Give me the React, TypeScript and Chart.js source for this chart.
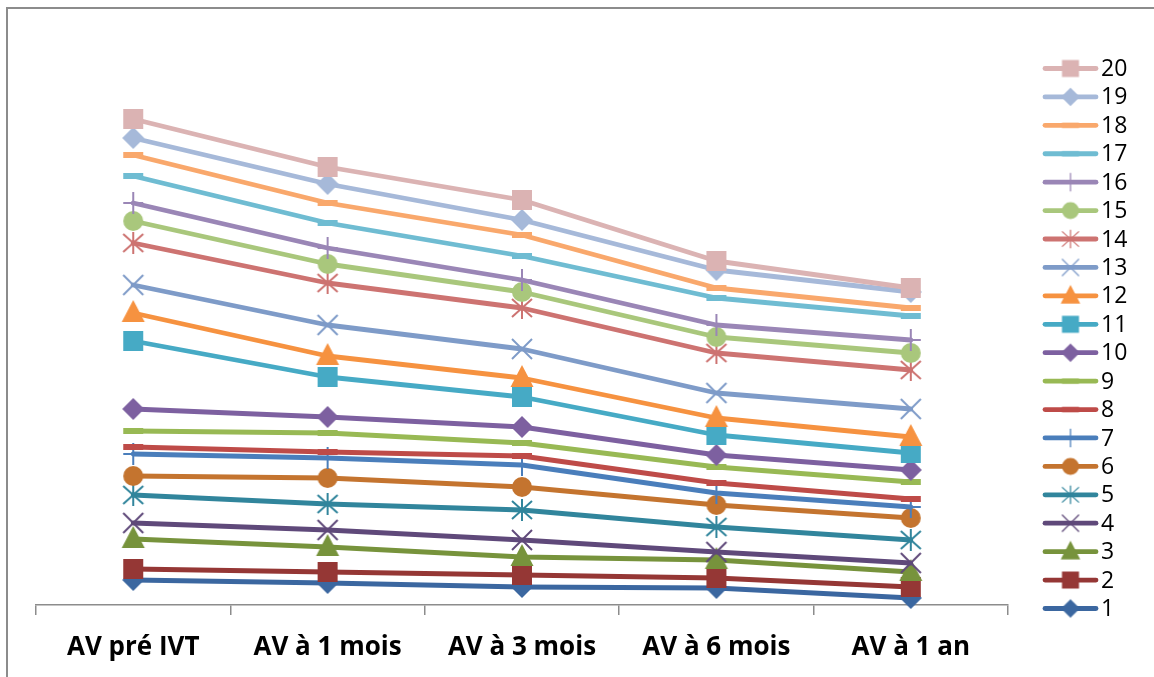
import React, { useEffect, useRef } from 'react';
import { Chart, registerables } from 'chart.js';

Chart.register(...registerables);

const categories = ['AV pré IVT', 'AV à 1 mois', 'AV à 3 mois', 'AV à 6 mois', 'AV à 1 an'];

const seriesNames = ['1', '2', '3', '4', '5', '6', '7', '8', '9', '10', '11', '12', '13', '14', '15', '16', '17', '18', '19', '20'];

const s1 = [1.25, 1.1, 0.9, 0.85, 0.35];
const s2 = [1.8, 1.65, 1.5, 1.35, 0.9];
const s3 = [3.3, 2.9, 2.4, 2.25, 1.65];
const s4 = [4.1, 3.75, 3.25, 2.65, 2.1];
const s5 = [5.5, 5.05, 4.75, 3.9, 3.25];
const s6 = [6.45, 6.35, 5.9, 5.0, 4.35];
const s7 = [7.55, 7.35, 7.0, 5.6, 4.9];
const s8 = [7.9, 7.65, 7.45, 6.1, 5.3];
const s9 = [8.7, 8.6, 8.1, 6.9, 6.15];
const s10 = [9.8, 9.4, 8.9, 7.5, 6.75];
const s11 = [13.2, 11.4, 10.4, 8.5, 7.6];
const s12 = [14.6, 12.45, 11.35, 9.35, 8.4];
const s13 = [16.0, 14.0, 12.8, 10.6, 9.8];
const s14 = [18.1, 16.1, 14.85, 12.6, 11.75];
const s15 = [19.2, 17.05, 15.65, 13.4, 12.6];
const s16 = [20.1, 17.85, 16.25, 14.0, 13.25];
const s17 = [21.45, 19.1, 17.45, 15.35, 14.45];
const s18 = [22.5, 20.1, 18.5, 15.85, 14.85];
const s19 = [23.35, 21.05, 19.25, 16.75, 15.65];
const s20 = [24.3, 21.9, 20.25, 17.2, 15.85];

const seriesValues = [s1, s2, s3, s4, s5, s6, s7, s8, s9, s10, s11, s12, s13, s14, s15, s16, s17, s18, s19, s20];

const seriesColors = [
  '#3B67A0', '#953735', '#77933C', '#5F497A', '#31859C',
  '#C4742F', '#4A7EBB', '#BE4B48', '#98B954', '#7D60A0',
  '#46AAC5', '#F69240', '#7E9BC8', '#CD7371', '#A9C77C',
  '#9A86B6', '#6FBCD2', '#F9A86C', '#A6B9D9', '#DBB3B3',
];

const seriesMarkers = [
  'diamond', 'square', 'triangle', 'x', 'star', 'circle', 'plus', 'dash', 'dash', 'diamond',
  'square', 'triangle', 'x', 'star', 'circle', 'plus', 'dash', 'dash', 'diamond', 'square',
];

function makeMarker(kind: string, color: string, scale: number, lw: number): HTMLCanvasElement {
  const S = 30;
  const c = document.createElement('canvas');
  c.width = S;
  c.height = S;
  const g = c.getContext('2d') as CanvasRenderingContext2D;
  g.translate(S / 2, S / 2);
  g.scale(scale, scale);
  g.fillStyle = color;
  g.strokeStyle = color;
  g.lineWidth = lw;
  g.lineCap = 'butt';
  const line = (x1: number, y1: number, x2: number, y2: number) => {
    g.beginPath();
    g.moveTo(x1, y1);
    g.lineTo(x2, y2);
    g.stroke();
  };
  switch (kind) {
    case 'diamond':
      g.beginPath();
      g.moveTo(0, -11);
      g.lineTo(11, 0);
      g.lineTo(0, 11);
      g.lineTo(-11, 0);
      g.closePath();
      g.fill();
      break;
    case 'square':
      g.fillRect(-10, -10, 20, 20);
      break;
    case 'triangle':
      g.beginPath();
      g.moveTo(0, -13);
      g.lineTo(11.5, 9);
      g.lineTo(-11.5, 9);
      g.closePath();
      g.fill();
      break;
    case 'x':
      line(-10, -10, 10, 10);
      line(-10, 10, 10, -10);
      break;
    case 'star':
      line(-10, -9, 10, 9);
      line(-10, 9, 10, -9);
      line(0, -11, 0, 11);
      break;
    case 'circle':
      g.beginPath();
      g.arc(0, 0, 10, 0, Math.PI * 2);
      g.fill();
      break;
    case 'plus':
      line(-10, 0, 10, 0);
      line(0, -11, 0, 11);
      break;
    case 'dash':
      g.fillRect(-10, -3, 20, 6);
      break;
  }
  return c;
}

export default function App() {
  const ref = useRef<HTMLCanvasElement | null>(null);

  useEffect(() => {
    const canvas = ref.current;
    if (!canvas) return;

    const chartMarkers = seriesMarkers.map((m, i) => makeMarker(m, seriesColors[i], 1, 2));
    const legendMarkers = seriesMarkers.map((m, i) => makeMarker(m, seriesColors[i], 0.85, 1.5));

    const datasets = seriesValues.map((vals, i) => ({
      label: seriesNames[i],
      data: vals,
      borderColor: seriesColors[i],
      backgroundColor: seriesColors[i],
      borderWidth: 4.8,
      borderCapStyle: 'round' as const,
      borderJoinStyle: 'round' as const,
      pointStyle: chartMarkers[i],
      pointRadius: 10,
      pointHoverRadius: 10,
      tension: 0,
      clip: false as const,
      order: seriesValues.length - 1 - i,
    }));

    const framePlugin = {
      id: 'frame',
      beforeDraw(chart: any) {
        const ctx = chart.ctx;
        ctx.save();
        ctx.fillStyle = '#ffffff';
        ctx.fillRect(0, 0, chart.width, chart.height);
        ctx.strokeStyle = '#8C8C8C';
        ctx.lineWidth = 2;
        ctx.strokeRect(7, 8, 1200, 720);
        ctx.restore();
      },
    };

    const legendPlugin = {
      id: 'excelLegend',
      afterDraw(chart: any) {
        const ctx = chart.ctx;
        const ds = chart.data.datasets;
        ctx.save();
        const n = ds.length;
        for (let k = 0; k < n; k++) {
          const i = n - 1 - k;
          const y = 68.5 + k * 28.42;
          ctx.strokeStyle = ds[i].borderColor;
          ctx.lineWidth = 4.8;
          ctx.lineCap = 'round';
          ctx.beginPath();
          ctx.moveTo(1045, y);
          ctx.lineTo(1096, y);
          ctx.stroke();
          const img = legendMarkers[i];
          ctx.drawImage(img, 1070.5 - img.width / 2, y - img.height / 2);
          ctx.fillStyle = '#000000';
          ctx.font = '23px "Open Sans"';
          ctx.textBaseline = 'middle';
          ctx.textAlign = 'left';
          ctx.fillText(ds[i].label, 1101, y + 1);
        }
        ctx.restore();
      },
    };

    const chart = new Chart(canvas, {
      type: 'line',
      data: { labels: categories, datasets },
      options: {
        responsive: false,
        maintainAspectRatio: false,
        animation: false,
        layout: { padding: { left: 36, right: 146, top: 25, bottom: 0 } },
        plugins: {
          legend: { display: false },
          tooltip: { enabled: false },
        },
        scales: {
          x: {
            type: 'category',
            offset: true,
            grid: {
              display: true,
              drawOnChartArea: false,
              drawTicks: true,
              tickLength: 10,
              color: '#8C8C8C',
              lineWidth: 1.5,
              offset: true,
            },
            border: { display: true, color: '#8C8C8C', width: 1.5 },
            ticks: {
              color: '#000000',
              font: { family: '"Open Sans"', size: 26, weight: 'bold' },
              padding: 17,
              maxRotation: 0,
              autoSkip: false,
            },
            afterFit: (scale: any) => {
              scale.height = 72;
            },
          },
          y: { display: false, min: 0, max: 29 },
        },
      },
      plugins: [framePlugin, legendPlugin],
    } as any);

    return () => {
      chart.destroy();
    };
  }, []);

  return (
    <div style={{ position: 'absolute', left: 0, top: 0, width: 1154, height: 677 }}>
      <canvas ref={ref} width={1154} height={677} style={{ display: 'block', width: 1154, height: 677 }} />
    </div>
  );
}
